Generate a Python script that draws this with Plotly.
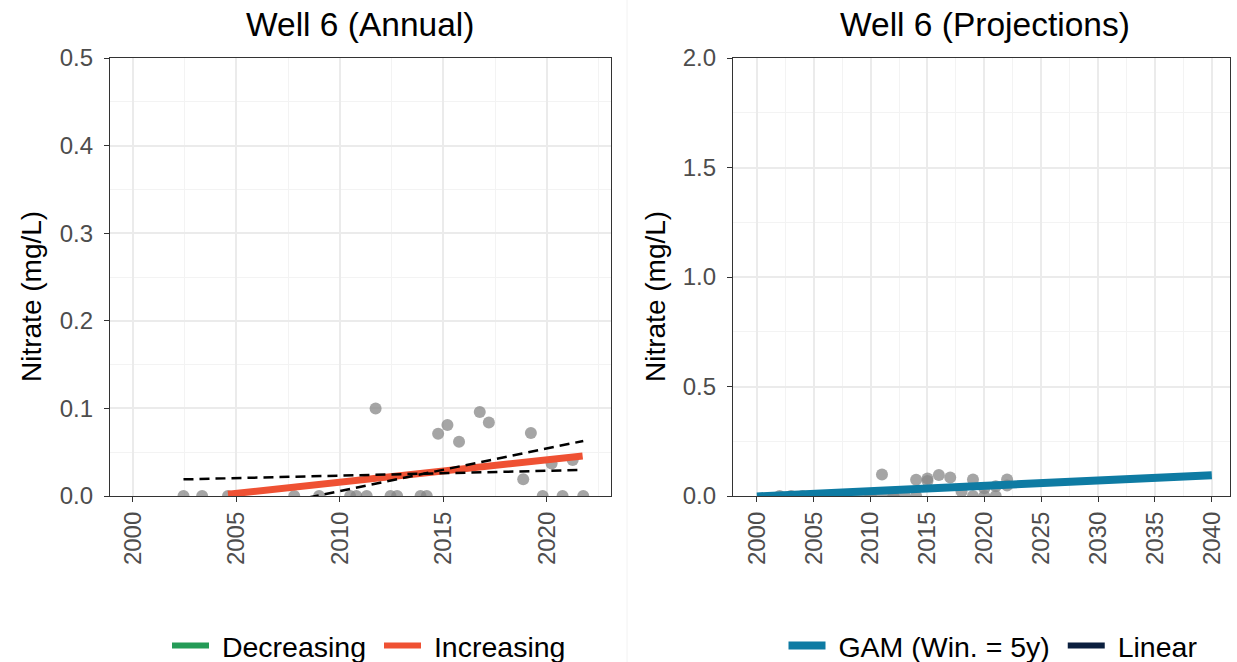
import plotly.graph_objects as go

# ---------------- data ----------------
annual_year = [2002.45, 2003.35, 2004.6, 2007.8, 2009.0, 2010.5, 2010.8, 2011.3, 2011.73,
               2012.45, 2012.77, 2013.9, 2014.2, 2014.75, 2015.2, 2015.76, 2016.76, 2017.2,
               2018.86, 2019.23, 2019.8, 2020.23, 2020.76, 2021.25, 2021.76]
annual_no3 = [0, 0, 0, 0, 0, 0, 0, 0, 0.100,
              0, 0, 0, 0, 0.071, 0.081, 0.062, 0.096, 0.084,
              0.019, 0.072, 0, 0.037, 0, 0.041, 0]

trend_year = [2004.6, 2021.73]
trend_no3 = [0.002, 0.0457]

ci_year = [2002.45, 2021.76]
ci_flat = [0.019, 0.0297]
ci_steep = [-0.031, 0.0628]

proj_year = [2002, 2003, 2004, 2005, 2007, 2009, 2010, 2010, 2011, 2011, 2012, 2012, 2013,
             2014, 2014, 2015, 2015, 2016, 2017, 2018, 2019, 2019, 2020, 2020, 2021, 2021,
             2022, 2022]
proj_no3 = [0, 0, 0, 0, 0, 0, 0, 0, 0.098, 0, 0, 0, 0,
            0.074, 0, 0.080, 0.068, 0.096, 0.085, 0.020, 0.075, 0, 0.035, 0, 0.045, 0,
            0.075, 0.048]

gam_year = [2000, 2040]
gam_no3 = [-0.002, 0.095]

# ---------------- styles ----------------
GREEN = "#249B57"
RED = "#EF5133"
BLUE = "#0E7BA3"
NAVY = "#0B1F3E"
POINT = "rgba(135,135,135,0.75)"
W, H = 1237, 662
TOP, BOTTOM = 58, 496          # pixel rows of the panel top / bottom
FONT = "Liberation Sans, Arial, sans-serif"
NB = "\u00a0"

fig = go.Figure()

# Left panel
fig.add_trace(go.Scatter(x=annual_year, y=annual_no3, mode="markers",
                         marker=dict(size=12, color=POINT), showlegend=False,
                         xaxis="x", yaxis="y"))
fig.add_trace(go.Scatter(x=trend_year, y=trend_no3, mode="lines",
                         line=dict(color=RED, width=7), showlegend=False,
                         xaxis="x", yaxis="y"))
fig.add_trace(go.Scatter(x=ci_year, y=ci_flat, mode="lines",
                         line=dict(color="black", width=2.5, dash="10px,6px"),
                         showlegend=False, xaxis="x", yaxis="y"))
fig.add_trace(go.Scatter(x=ci_year, y=ci_steep, mode="lines",
                         line=dict(color="black", width=2.5, dash="10px,6px"),
                         showlegend=False, xaxis="x", yaxis="y"))
fig.add_trace(go.Scatter(x=[None], y=[None], mode="lines", name=NB + "Decreasing" + NB,
                         line=dict(color=GREEN, width=6), legend="legend",
                         xaxis="x", yaxis="y"))
fig.add_trace(go.Scatter(x=[None], y=[None], mode="lines", name=NB + "Increasing",
                         line=dict(color=RED, width=6), legend="legend",
                         xaxis="x", yaxis="y"))

# Right panel
fig.add_trace(go.Scatter(x=proj_year, y=proj_no3, mode="markers",
                         marker=dict(size=12, color=POINT), showlegend=False,
                         xaxis="x2", yaxis="y2"))
fig.add_trace(go.Scatter(x=gam_year, y=gam_no3, mode="lines", name=NB + "GAM (Win. = 5y)" + NB,
                         line=dict(color=BLUE, width=8), legend="legend2",
                         xaxis="x2", yaxis="y2"))
fig.add_trace(go.Scatter(x=[None], y=[None], mode="lines", name=NB + "Linear",
                         line=dict(color=NAVY, width=6), legend="legend2",
                         xaxis="x2", yaxis="y2"))


def px_x(p):
    return p / W


def px_y(p):
    # paper fraction (plot area = panel rows TOP..BOTTOM) for a pixel row p
    return (BOTTOM - p) / (BOTTOM - TOP)


tickfont = dict(family=FONT, size=24, color="#4D4D4D")
common_x = dict(showgrid=True, gridcolor="#EBEBEB", gridwidth=1.6, zeroline=False,
                showline=True, linecolor="#333333", linewidth=1.2, mirror=True,
                ticks="outside", ticklen=5, tickwidth=1.2, tickcolor="#333333",
                tickangle=-90, tickfont=tickfont, dtick=5, tick0=2000,
                minor=dict(dtick=2.5, tick0=2000, showgrid=True, gridcolor="#F3F3F3",
                           gridwidth=1, ticks=""),
                automargin=False)
common_y = dict(showgrid=True, gridcolor="#EBEBEB", gridwidth=1.6, zeroline=False,
                showline=True, linecolor="#333333", linewidth=1.2, mirror=True,
                ticks="outside", ticklen=5, tickwidth=1.2, tickcolor="#333333",
                tickfont=tickfont, tickformat=".1f", automargin=False,
                ticklabelstandoff=6)

legend_common = dict(orientation="h", xanchor="center", yanchor="middle",
                     font=dict(family=FONT, size=28.5, color="black"),
                     bgcolor="rgba(0,0,0,0)", itemwidth=37, tracegroupgap=0)
fig.update_layout(
    width=W, height=H,
    margin=dict(l=0, r=0, t=TOP, b=H - BOTTOM, autoexpand=False),
    paper_bgcolor="white", plot_bgcolor="white",
    font=dict(family=FONT, color="black"),
    xaxis=dict(common_x, domain=[px_x(110), px_x(611)], range=[1998.9, 2023.1], anchor="y"),
    yaxis=dict(common_y, domain=[0, 1], range=[0, 0.5], dtick=0.1,
               minor=dict(dtick=0.05, showgrid=True, gridcolor="#F3F3F3", gridwidth=1, ticks=""),
               anchor="x"),
    xaxis2=dict(common_x, domain=[px_x(733), px_x(1230)], range=[1997.9, 2041.6], anchor="y2"),
    yaxis2=dict(common_y, domain=[0, 1], range=[0, 2.0], dtick=0.5,
                minor=dict(dtick=0.25, showgrid=True, gridcolor="#F3F3F3", gridwidth=1, ticks=""),
                anchor="x2"),
    legend=dict(legend_common, x=px_x(369), y=px_y(646)),
    legend2=dict(legend_common, x=px_x(993), y=px_y(646)),
    shapes=[dict(type="line", xref="paper", yref="paper", x0=px_x(627), x1=px_x(627),
                 y0=px_y(H), y1=px_y(0), line=dict(color="#F2F2F2", width=1))],
    annotations=[
        dict(text="Well 6 (Annual)", x=px_x(360), y=px_y(24), xref="paper", yref="paper",
             showarrow=False, font=dict(size=33.5, color="black"), xanchor="center", yanchor="middle"),
        dict(text="Well 6 (Projections)", x=px_x(985), y=px_y(24), xref="paper", yref="paper",
             showarrow=False, font=dict(size=33.5, color="black"), xanchor="center", yanchor="middle"),
        dict(text="Nitrate (mg/L)", x=px_x(31), y=px_y(297), xref="paper", yref="paper",
             showarrow=False, textangle=-90, font=dict(size=28, color="black"),
             xanchor="center", yanchor="middle"),
        dict(text="Nitrate (mg/L)", x=px_x(655), y=px_y(297), xref="paper", yref="paper",
             showarrow=False, textangle=-90, font=dict(size=28, color="black"),
             xanchor="center", yanchor="middle"),
    ],
)

fig.write_html(
    "out.html",
    config={"displayModeBar": False},
    post_script=("document.body.style.margin='0';"
                 "document.body.style.overflow='hidden';"
                 "document.documentElement.style.overflow='hidden';"),
)
